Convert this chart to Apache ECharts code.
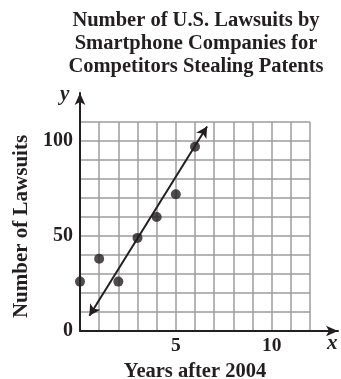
<!DOCTYPE html>
<html>
<head>
<meta charset="utf-8">
<script src="https://cdn.jsdelivr.net/npm/echarts@6/dist/echarts.min.js"></script>
<style>
  html, body { margin: 0; padding: 0; background: #fff; }
  #chart { width: 341px; height: 379px; }
</style>
</head>
<body>
<div id="chart"></div>
<script>
// data
var years = [0, 1, 2, 3, 4, 5, 6]
var lawsuits = [26, 38, 26, 49, 60, 72, 97]
// the hand drawn line of fit (ends with arrows)
var fitX = [0.49, 6.63]
var fitY = [8.0, 107.6]
var xLabels = [5, 10]
var yLabels = [0, 50, 100]

var serif = 'Liberation Serif'
var ink = '#231f20'
var points = years.map(function (x, i) { return [x, lawsuits[i]] })

var option = {
    animation: false,
    title: {
        text: 'Number of U.S. Lawsuits by\nSmartphone Companies for\nCompetitors Stealing Patents',
        left: 191,
        top: 4,
        textAlign: 'center',
        textStyle: {
            fontFamily: serif,
            fontWeight: 'bold',
            fontSize: 20.5,
            lineHeight: 23,
            color: ink
        }
    },
    grid: [
        { left: 80, right: 31, top: 122, bottom: 48, outerBoundsMode: 'none' },
        // only used to draw the longer axis lines with arrows
        { left: 80, right: 3, top: 93, bottom: 48, outerBoundsMode: 'none' }
    ],
    xAxis: [
        {
            type: 'value', gridIndex: 0, min: 0, max: 12, interval: 1,
            name: 'Years after 2004', nameLocation: 'middle', nameGap: 28,
            nameTextStyle: { fontFamily: serif, fontWeight: 'bold', fontSize: 20.5, color: ink },
            axisLine: { show: false },
            axisTick: { show: false },
            splitLine: { show: true, lineStyle: { color: '#9d9d9d', width: 1.5 } },
            axisLabel: {
                margin: 5,
                fontFamily: serif, fontWeight: 'bold', fontSize: 19.5, color: ink,
                formatter: function (v) { return xLabels.indexOf(v) >= 0 ? String(v) : '' }
            }
        },
        {
            type: 'value', gridIndex: 1, min: 0, max: 1,
            axisLine: { show: true, symbol: ['none', 'arrow'], symbolSize: [8, 12], lineStyle: { color: ink, width: 2 } },
            axisTick: { show: false }, axisLabel: { show: false }, splitLine: { show: false }
        }
    ],
    yAxis: [
        {
            type: 'value', gridIndex: 0, min: 0, max: 110, interval: 10,
            name: 'Number of Lawsuits', nameLocation: 'middle', nameGap: 46,
            nameTextStyle: { fontFamily: serif, fontWeight: 'bold', fontSize: 21, color: ink },
            axisLine: { show: false },
            axisTick: { show: false },
            splitLine: { show: true, lineStyle: { color: '#9d9d9d', width: 1.5 } },
            axisLabel: {
                margin: 7,
                fontFamily: serif, fontWeight: 'bold', fontSize: 20, color: ink,
                formatter: function (v) { return yLabels.indexOf(v) >= 0 ? String(v) : '' }
            }
        },
        {
            type: 'value', gridIndex: 1, min: 0, max: 1,
            axisLine: { show: true, symbol: ['none', 'arrow'], symbolSize: [8, 12], lineStyle: { color: ink, width: 2 } },
            axisTick: { show: false }, axisLabel: { show: false }, splitLine: { show: false }
        }
    ],
    graphic: [
        { type: 'text', left: 60, top: 84, style: { text: 'y', fontFamily: serif, fontStyle: 'italic', fontWeight: 'bold', fontSize: 21, fill: ink } },
        { type: 'text', left: 327, top: 333, style: { text: 'x', fontFamily: serif, fontStyle: 'italic', fontWeight: 'bold', fontSize: 21, fill: ink } }
    ],
    series: [
        {
            type: 'scatter',
            xAxisIndex: 0, yAxisIndex: 0,
            symbolSize: 10,
            itemStyle: { color: ink },
            data: points,
            markLine: {
                silent: true,
                symbol: ['arrow', 'arrow'],
                symbolSize: [9, 11],
                label: { show: false },
                lineStyle: { color: ink, width: 2, type: 'solid' },
                data: [[{ coord: [fitX[0], fitY[0]] }, { coord: [fitX[1], fitY[1]] }]]
            }
        }
    ]
}

echarts.init(document.getElementById('chart')).setOption(option)
</script>
</body>
</html>
